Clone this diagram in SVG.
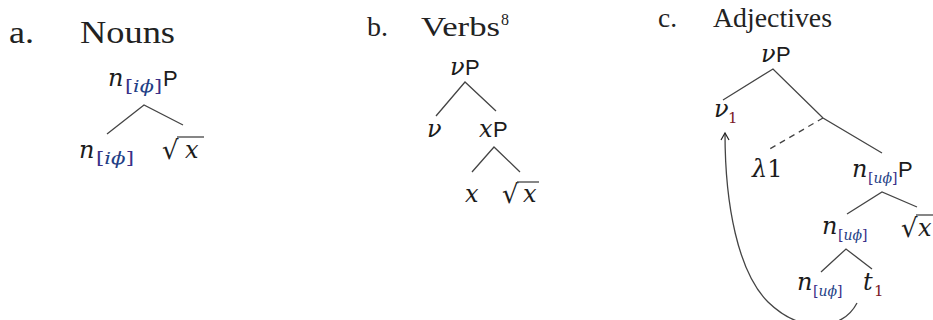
<svg xmlns="http://www.w3.org/2000/svg" width="933" height="320" viewBox="0 0 933 320">
<defs>
<style>
.h{font-family:"Liberation Serif","DejaVu Serif",serif;fill:#222}
.m{font-family:"DejaVu Serif",serif;font-style:italic;fill:#1c1c1c;font-size:24px}
.s{font-family:"DejaVu Serif",serif;font-size:16px;fill:#3a3088}
.sc{font-family:"DejaVu Serif",serif;font-size:14px;fill:#3a3088}
.si{font-style:italic;fill:#1f3f86}
.r{font-family:"DejaVu Serif",serif;font-size:15px;fill:#7a1a28}
.p{font-family:"Liberation Sans","DejaVu Sans",sans-serif;fill:#1c1c1c;font-size:22px}
.rad{font-family:"DejaVu Serif",serif;fill:#1c1c1c;font-size:26px}
.e{stroke:#444;stroke-width:1.3;fill:none}
.d{stroke:#444;stroke-width:1.3;fill:none;stroke-dasharray:6 5}
</style>
<marker id="ah" markerWidth="10" markerHeight="10" refX="8" refY="5" orient="auto" markerUnits="userSpaceOnUse">
<path d="M1,1 L8,5 L1,9" fill="none" stroke="#222" stroke-width="1.2"/>
</marker>
</defs>
<rect width="933" height="320" fill="#fff"/>

<g id="title-a">
<text class="h" x="9" y="43" font-size="31" textLength="25" lengthAdjust="spacingAndGlyphs">a.</text>
<text class="h" x="80" y="43" font-size="31" textLength="95" lengthAdjust="spacingAndGlyphs">Nouns</text>
</g>
<g id="title-b">
<text class="h" x="367" y="36" font-size="28" textLength="21" lengthAdjust="spacingAndGlyphs">b.</text>
<text class="h" x="421" y="36" font-size="28" textLength="79" lengthAdjust="spacingAndGlyphs">Verbs</text>
<text class="h" x="501" y="25" font-size="16">8</text>
</g>
<g id="title-c">
<text class="h" x="658" y="27" font-size="27" textLength="19" lengthAdjust="spacingAndGlyphs">c.</text>
<text class="h" x="713" y="27" font-size="27" textLength="119" lengthAdjust="spacingAndGlyphs">Adjectives</text>
</g>

<!-- Tree a -->
<g id="a-root">
<text class="m" x="108" y="86">n</text>
<text class="s" x="125" y="92" textLength="37" lengthAdjust="spacingAndGlyphs">[<tspan class="si">iϕ</tspan>]</text>
<text class="p" x="163" y="86">P</text>
</g>
<g id="a-n">
<text class="m" x="79" y="158">n</text>
<text class="s" x="96" y="164" textLength="38" lengthAdjust="spacingAndGlyphs">[<tspan class="si">iϕ</tspan>]</text>
</g>
<g id="a-root-x">
<text class="rad" x="162" y="159">√</text>
<line class="e" x1="177" y1="137" x2="204" y2="137"/>
<text class="m" x="185" y="158">x</text>
</g>

<!-- Tree b -->
<g id="b-vP">
<text class="m" x="450" y="75">ν</text>
<text class="p" x="465" y="75">P</text>
</g>
<g id="b-v">
<text class="m" x="427" y="137">ν</text>
</g>
<g id="b-xP">
<text class="m" x="479" y="137">x</text>
<text class="p" x="493" y="137">P</text>
</g>
<g id="b-x">
<text class="m" x="465" y="202">x</text>
</g>
<g id="b-root-x">
<text class="rad" x="502" y="203">√</text>
<line class="e" x1="517" y1="182" x2="539" y2="182"/>
<text class="m" x="523" y="202">x</text>
</g>

<!-- Tree c -->
<g id="c-vP">
<text class="m" x="761" y="62">ν</text>
<text class="p" x="776" y="62">P</text>
</g>
<g id="c-v1">
<text class="m" x="714" y="117">ν</text>
<text class="r" x="728" y="123">1</text>
</g>
<g id="c-lambda">
<text class="m" x="752" y="177" fill="#1f2f66">λ<tspan font-style="normal">1</tspan></text>
</g>
<g id="c-nP">
<text class="m" x="852" y="177">n</text>
<text class="sc" x="868" y="183">[<tspan class="si">uϕ</tspan>]</text>
<text class="p" x="898" y="177">P</text>
</g>
<g id="c-n-mid">
<text class="m" x="822" y="234">n</text>
<text class="sc" x="838" y="240">[<tspan class="si">uϕ</tspan>]</text>
</g>
<g id="c-root-x">
<text class="rad" x="901" y="237">√</text>
<line class="e" x1="916" y1="215" x2="933" y2="215"/>
<text class="m" x="918" y="236">x</text>
</g>
<g id="c-n-low">
<text class="m" x="797" y="290">n</text>
<text class="sc" x="813" y="296">[<tspan class="si">uϕ</tspan>]</text>
</g>
<g id="c-t1">
<text class="m" x="863" y="290">t</text>
<text class="r" x="874" y="296">1</text>
</g>

<g id="connectors">
<polyline class="e" points="107,134 144,105 183,125"/>
<polyline class="e" points="436,116 465,82 496,111"/>
<polyline class="e" points="472,172 494,147 520,172"/>
<polyline class="e" points="723,100 773,69 823,118 882,153"/>
<line class="d" x1="823" y1="118" x2="768" y2="150"/>
<polyline class="e" points="847,214 882,192 917,207"/>
<polyline class="e" points="821,272 846,249 872,269"/>
<path class="e" d="M857,303 C842,332 800,333 768,302 C738,272 725,205 725,133" marker-end="url(#ah)"/>
</g>
</svg>
